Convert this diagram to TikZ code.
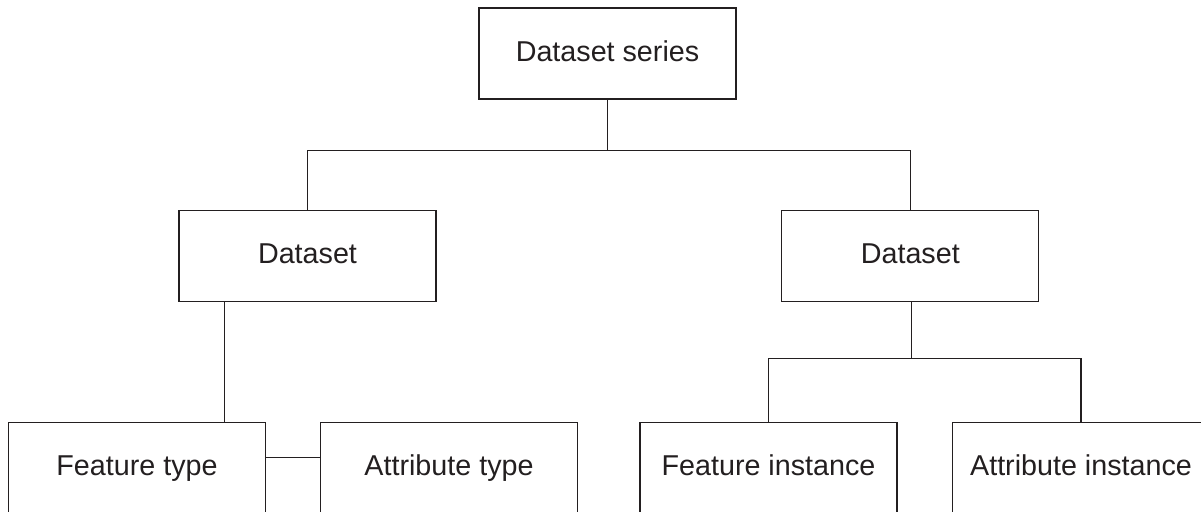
\documentclass[tikz,border=0pt]{standalone}
\usepackage{fontspec}
\setmainfont{Liberation Sans}
\definecolor{ink}{HTML}{231F20}
\begin{document}
\begin{tikzpicture}[x=1pt,y=-1pt,
  box/.style={draw=ink, line width=1.1pt, minimum width=257pt, minimum height=91pt,
    inner sep=0pt, text height=21pt, text depth=6pt, text=ink,
    font=\fontsize{28.7}{34}\selectfont},
  link/.style={draw=ink, line width=1.1pt}]
\useasboundingbox (0,0) rectangle (1201,511);
\clip (0,0) rectangle (1201,511);
\fill[white] (0,0) rectangle (1201,511);
\node[box] (top) at (607.5,53.5) {Dataset series};
\node[box] (dsL) at (307.5,256.2) {Dataset};
\node[box] (dsR) at (910.3,256.2) {Dataset};
\node[box] (ft) at (137,468.2) {Feature type};
\node[box] (at) at (449,468.2) {Attribute type};
\node[box] (fi) at (768.5,468.2) {Feature instance};
\node[box] (ai) at (1081,468.2) {Attribute instance};
\coordinate (j1) at (608,150.7);
\coordinate (j2) at (911.5,358.3);
\draw[link] (top.south) -- (top.south |- j1);
\draw[link] (dsL.north) |- (j1) -| (dsR.north);
\draw[link] ([xshift=46pt]dsL.south west) -- ([xshift=46pt]dsL.south west |- ft.north);
\draw[link] ([yshift=11pt]ft.east) -- ([yshift=11pt]at.west);
\draw[link] (dsR.south -| j2) -- (j2);
\draw[link] (fi.north) |- (j2) -| (ai.north);
\end{tikzpicture}
\end{document}
